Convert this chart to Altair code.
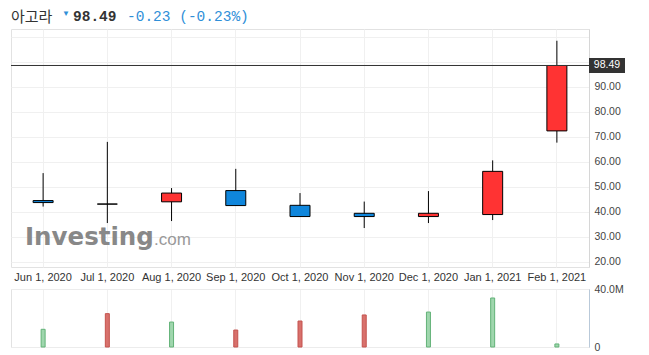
import altair as alt
import pandas as pd

# ---- data ----
months = ["Jun 1, 2020", "Jul 1, 2020", "Aug 1, 2020", "Sep 1, 2020", "Oct 1, 2020",
          "Nov 1, 2020", "Dec 1, 2020", "Jan 1, 2021", "Feb 1, 2021"]
open_ = [44.4, 43.0, 43.9, 48.4, 42.5, 39.3, 38.0, 38.8, 72.3]
high = [55.4, 67.9, 49.4, 57.1, 47.4, 44.0, 48.2, 60.5, 108.4]
low = [42.0, 35.4, 36.2, 42.4, 38.0, 33.4, 35.4, 36.6, 67.6]
close = [43.6, 43.0, 47.4, 42.4, 38.0, 38.0, 39.3, 56.1, 98.49]
volume_m = [12.2, 23.0, 17.2, 11.7, 17.9, 22.1, 24.1, 33.8, 2.1]
volume_dir = ["up", "down", "up", "down", "down", "down", "up", "up", "up"]

price_ticks = [20, 30, 40, 50, 60, 70, 80, 90, 100, 110]
volume_ticks = [0, 40]

name = "아고라"
last_price = 98.49
change_text = "-0.23 (-0.23%)"

RED = "#ff3333"
BLUE = "#0f86dc"

def candle_color(o, c):
    if c > o:
        return RED
    if c < o:
        return BLUE
    return "#000000"

df = pd.DataFrame({
    "month": months, "open": open_, "high": high, "low": low, "close": close,
    "volume": volume_m, "dir": volume_dir,
    "color": [candle_color(o, c) for o, c in zip(open_, close)],
})
df["vfill"] = ["#9fd6ad" if d == "up" else "#d8716c" for d in volume_dir]
df["vstroke"] = ["#62b277" if d == "up" else "#c4534e" for d in volume_dir]

W = 578
x_scale = alt.Scale(paddingInner=0, paddingOuter=0)
x_axis = alt.Axis(labelAngle=0, ticks=False, domain=False, grid=True,
                  gridColor="#f0f0f0", bandPosition=0.5, labelPadding=4,
                  labelColor="#333333", labelFontSize=11)
y_scale = alt.Scale(domain=[17.8, 113.1], nice=False, zero=False)
y_axis = alt.Axis(orient="right", values=price_ticks, grid=True,
                  gridColor="#f0f0f0", ticks=False, domainColor="#d6d6d6",
                  labelPadding=5, labelFlush=False, labelOverlap=False,
                  labelColor="#444444", labelFontSize=10.5,
                  labelExpr="datum.value >= 100 ? '' : format(datum.value, '.2f')")


def X():
    return alt.X("month:O", sort=months, title=None, scale=x_scale, axis=x_axis)


def Y(field):
    return alt.Y(field, title=None, scale=y_scale, axis=y_axis)


base = alt.Chart(df)

wicks = base.mark_rule(color="#000000", strokeWidth=1).encode(
    x=X(), y=Y("low:Q"), y2="high:Q")
bodies = base.mark_bar(size=20, stroke="#000000", strokeWidth=1).encode(
    x=X(), y=Y("open:Q"), y2="close:Q",
    fill=alt.Fill("color:N", scale=None))

one = pd.DataFrame({"v": [last_price]})
last_rule = alt.Chart(one).mark_rule(color="#333333", strokeWidth=1).encode(y=Y("v:Q"))
last_box = alt.Chart(one).transform_calculate(
    top="datum.v + 3", bot="datum.v - 3").mark_rect(color="#333333").encode(
    x=alt.value(W), x2=alt.value(W + 36), y=Y("top:Q"), y2="bot:Q")
last_text = alt.Chart(one).mark_text(color="#ffffff", fontSize=10.5, font="Liberation Sans",
                                     align="center", baseline="middle").encode(
    x=alt.value(W + 18), y=Y("v:Q"), text=alt.Text("v:Q", format=".2f"))

hdr = pd.DataFrame({"name": [name], "price": [f"{last_price:.2f}"], "chg": [change_text]})
h_name = alt.Chart(hdr).mark_text(align="left", baseline="middle", fontSize=15,
                                  font="Noto Sans CJK KR", color="#333333").encode(
    x=alt.value(0), y=alt.value(-12), text="name:N")
h_tri = alt.Chart(hdr).mark_text(align="left", baseline="middle", fontSize=8,
                                 color="#2f8fd8", text="▼").encode(
    x=alt.value(51), y=alt.value(-15))
h_price = alt.Chart(hdr).mark_text(align="left", baseline="middle", fontSize=14.5,
                                   font="Liberation Mono", fontWeight="bold",
                                   color="#333333").encode(
    x=alt.value(62), y=alt.value(-12), text="price:N")
h_chg = alt.Chart(hdr).mark_text(align="left", baseline="middle", fontSize=14.5,
                                 font="Liberation Mono", color="#2f8fd8").encode(
    x=alt.value(116), y=alt.value(-12), text="chg:N")

wm = pd.DataFrame({"a": ["Investing"], "b": [".com"]})
wm1 = alt.Chart(wm).mark_text(align="left", baseline="alphabetic", fontSize=24.5,
                              font="DejaVu Sans", fontWeight="bold", color="#888888").encode(
    x=alt.value(14), y=alt.value(216), text="a:N")
wm2 = alt.Chart(wm).mark_text(align="left", baseline="alphabetic", fontSize=17,
                              font="Liberation Sans", color="#999999").encode(
    x=alt.value(143), y=alt.value(216), text="b:N")

price = alt.layer(wm1, wm2, wicks, bodies, last_rule, last_box, last_text,
                  h_name, h_tri, h_price, h_chg).properties(width=W, height=238)

volume = base.mark_bar(size=4, strokeWidth=1).encode(
    x=alt.X("month:O", sort=months, title=None, scale=x_scale,
            axis=alt.Axis(labels=False, ticks=False, domain=False, grid=True,
                          gridColor="#f0f0f0", bandPosition=0.5)),
    y=alt.Y("volume:Q", title=None, scale=alt.Scale(domain=[0, 40], nice=False),
            axis=alt.Axis(orient="right", values=volume_ticks, grid=True,
                          gridColor="#ececec", ticks=False, domainColor="#b9c9d9",
                          labelPadding=5, labelFlush=False, labelColor="#444444",
                          labelFontSize=10.5,
                          labelExpr="datum.value == 0 ? '0' : format(datum.value, '.1f') + 'M'")),
    fill=alt.Fill("vfill:N", scale=None),
    stroke=alt.Stroke("vstroke:N", scale=None),
).properties(width=W, height=58)

chart = alt.vconcat(price, volume, spacing=0).properties(
    padding={"left": 2, "top": 0, "right": 5, "bottom": 0}
).configure_view(stroke="#e2e2e2").configure_axis(labelFont="Liberation Sans")

chart.save("out.html", embed_options={"renderer": "svg", "actions": False})
